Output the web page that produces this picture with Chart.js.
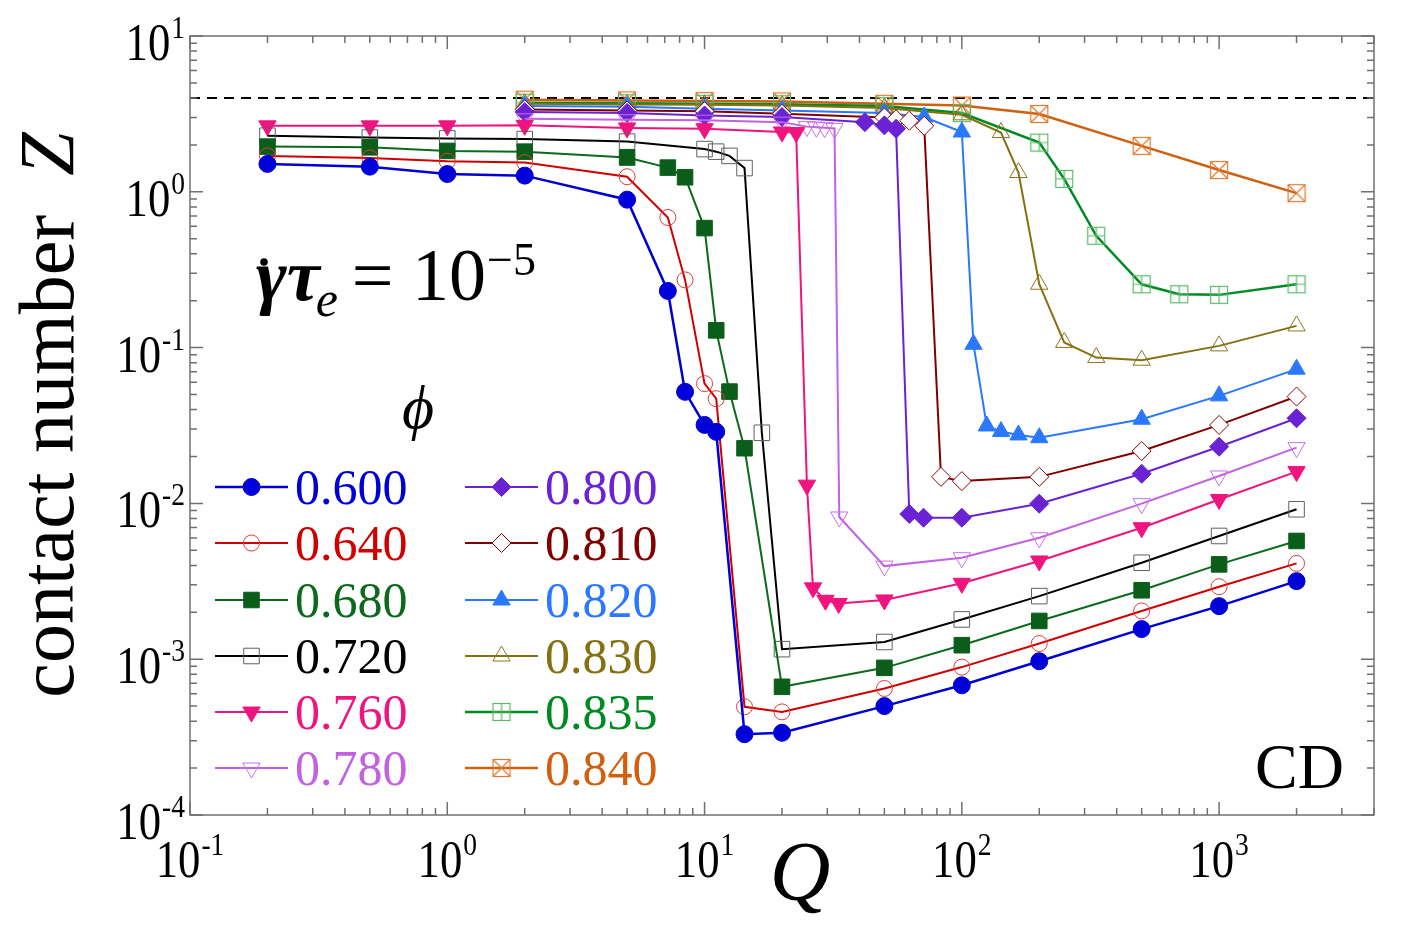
<!DOCTYPE html>
<html>
<head>
<meta charset="utf-8">
<script src="https://cdn.jsdelivr.net/npm/chart.js@4.4.1/dist/chart.umd.min.js"></script>
<style>
    html, body { margin: 0; padding: 0; background: #ffffff; }
    #wrap { width: 1403px; height: 933px; }
</style>
</head>
<body>
<div id="wrap"><canvas id="zChart" width="1403" height="933"></canvas></div>
<script>
// Contact number Z against Q, one curve per packing fraction phi
const phiLabels = ['0.600', '0.640', '0.680', '0.720', '0.760', '0.780',
                   '0.800', '0.810', '0.820', '0.830', '0.835', '0.840'];

const q600 = [0.2, 0.5, 1, 2, 5, 7.2, 8.4, 10, 11.1, 14.3, 20, 50, 100, 200, 500, 1000, 2000];
const z600 = [1.51, 1.45, 1.30, 1.27, 0.89, 0.231, 0.052, 0.0319, 0.0288, 3.30e-4, 3.37e-4, 5.0e-4, 6.8e-4, 9.7e-4, 1.56e-3, 2.19e-3, 3.17e-3];

const q640 = [0.2, 0.5, 1, 2, 5, 7.2, 8.4, 10, 11.1, 14.3, 20, 50, 100, 200, 500, 1000, 2000];
const z640 = [1.70, 1.65, 1.57, 1.54, 1.25, 0.684, 0.272, 0.0587, 0.047, 4.95e-4, 4.59e-4, 6.49e-4, 8.9e-4, 1.26e-3, 2.04e-3, 2.92e-3, 4.12e-3];

const q680 = [0.2, 0.5, 1, 2, 5, 7.2, 8.4, 10, 11.1, 12.5, 14.3, 20, 50, 100, 200, 500, 1000, 2000];
const z680 = [1.95, 1.93, 1.83, 1.81, 1.66, 1.43, 1.24, 0.585, 0.129, 0.0522, 0.0226, 6.65e-4, 8.8e-4, 1.23e-3, 1.76e-3, 2.77e-3, 4.06e-3, 5.74e-3];

const q720 = [0.2, 0.5, 1, 2, 5, 10, 11.1, 12.5, 14.3, 16.7, 20, 50, 100, 200, 500, 1000, 2000];
const z720 = [2.29, 2.23, 2.20, 2.18, 2.10, 1.88, 1.81, 1.70, 1.42, 0.0284, 1.16e-3, 1.29e-3, 1.80e-3, 2.54e-3, 4.16e-3, 6.18e-3, 9.17e-3];

const q760 = [0.2, 0.5, 1, 2, 5, 10, 20, 22.7, 25, 26.4, 29.5, 33.2, 50, 100, 200, 500, 1000, 2000];
const z760 = [2.65, 2.65, 2.65, 2.67, 2.57, 2.54, 2.42, 2.40, 0.0131, 2.87e-3, 2.39e-3, 2.28e-3, 2.40e-3, 3.07e-3, 4.27e-3, 6.98e-3, 0.0106, 0.0160];

const q780 = [2, 5, 10, 20, 25, 27.2, 29.3, 32, 33.4, 50, 100, 200, 500, 1000, 2000];
const z780 = [2.94, 2.90, 2.88, 2.80, 2.62, 2.60, 2.58, 2.55, 8.18e-3, 3.96e-3, 4.48e-3, 6.02e-3, 9.96e-3, 0.0150, 0.0228];

const q800 = [2, 5, 10, 20, 42, 50, 55.5, 62.5, 71, 100, 200, 500, 1000, 2000];
const z800 = [3.25, 3.21, 3.09, 3.02, 2.80, 2.67, 2.54, 8.55e-3, 8.09e-3, 8.09e-3, 9.96e-3, 0.0155, 0.0231, 0.0352];

const q810 = [2, 5, 10, 20, 50, 55.5, 62.5, 71.4, 83, 100, 200, 500, 1000, 2000];
const z810 = [3.38, 3.33, 3.29, 3.17, 3.00, 2.92, 2.86, 2.65, 0.0148, 0.0139, 0.0148, 0.0217, 0.0319, 0.0485];

const q820 = [2, 5, 10, 20, 50, 71.4, 100, 111, 125, 142, 166, 200, 500, 1000, 2000];
const z820 = [3.55, 3.52, 3.41, 3.33, 3.20, 3.02, 2.42, 0.105, 0.0314, 0.0289, 0.0275, 0.0264, 0.0347, 0.0490, 0.0727];

const q830 = [2, 5, 10, 20, 50, 100, 142, 166, 200, 250, 333, 500, 1000, 2000];
const z830 = [3.67, 3.63, 3.62, 3.58, 3.45, 3.12, 2.40, 1.33, 0.255, 0.108, 0.0863, 0.0830, 0.1026, 0.1378];

const q835 = [2, 5, 10, 20, 50, 100, 200, 250, 333, 500, 700, 1000, 2000];
const z835 = [3.73, 3.70, 3.67, 3.65, 3.55, 3.20, 2.07, 1.21, 0.522, 0.255, 0.220, 0.218, 0.255];

const q840 = [2, 5, 10, 20, 50, 100, 200, 500, 1000, 2000];
const z840 = [3.90, 3.86, 3.82, 3.80, 3.67, 3.58, 3.16, 1.97, 1.38, 0.98];

const zIso = 4;                 // dashed reference line
const xRange = [0.1, 4000];
const yRange = [1e-4, 10];
const xTickExp = ['-1', '0', '1', '2', '3'];
const yTickExp = ['-4', '-3', '-2', '-1', '0', '1'];

const qSets = [q600, q640, q680, q720, q760, q780, q800, q810, q820, q830, q835, q840];
const zSets = [z600, z640, z680, z720, z760, z780, z800, z810, z820, z830, z835, z840];

// little boxed markers (square with plus / square with X)
function boxMarker(color, kind) {
    const s = 20;
    const c = document.createElement('canvas');
    c.width = s; c.height = s;
    const g = c.getContext('2d');
    g.strokeStyle = color;
    g.lineWidth = 1.2;
    g.strokeRect(1.5, 1.5, s - 3, s - 3);
    g.beginPath();
    if (kind === 'plus') {
        g.moveTo(s / 2, 1.5); g.lineTo(s / 2, s - 1.5);
        g.moveTo(1.5, s / 2); g.lineTo(s - 1.5, s / 2);
    } else {
        g.moveTo(1.5, 1.5); g.lineTo(s - 1.5, s - 1.5);
        g.moveTo(s - 1.5, 1.5); g.lineTo(1.5, s - 1.5);
    }
    g.stroke();
    return c;
}

const NONE = 'rgba(0,0,0,0)';
const looks = [
    { line: '#0000d4', mark: '#0000d8', fill: '#0000d8', style: 'circle', r: 8.5, lw: 2.5 },
    { line: '#d00000', mark: '#e03a3a', fill: NONE, style: 'circle', r: 8, lw: 2 },
    { line: '#0b6a1c', mark: '#0b5e1a', fill: '#0b5e1a', style: 'rect', r: 11, lw: 2 },
    { line: '#000000', mark: '#606060', fill: NONE, style: 'rect', r: 11, lw: 2 },
    { line: '#f0147f', mark: '#f0147f', fill: '#f0147f', style: 'triangle', rot: 180, r: 10, lw: 2 },
    { line: '#c262e2', mark: '#c870ea', fill: NONE, style: 'triangle', rot: 180, r: 10, lw: 2 },
    { line: '#6a22d2', mark: '#6a22d2', fill: '#6a22d2', style: 'rectRot', r: 9.5, lw: 2 },
    { line: '#800000', mark: '#8a0000', fill: '#ffffff', style: 'rectRot', r: 9.5, lw: 2 },
    { line: '#2a78ff', mark: '#2a78ff', fill: '#2a78ff', style: 'triangle', r: 10, lw: 2 },
    { line: '#857012', mark: '#8a7522', fill: NONE, style: 'triangle', r: 10, lw: 2 },
    { line: '#008a22', mark: '#5cb86a', fill: NONE, style: boxMarker('#5cb86a', 'plus'), r: 9, lw: 2.5 },
    { line: '#d06010', mark: '#e07a30', fill: NONE, style: boxMarker('#e07a30', 'x'), r: 9, lw: 2.5 }
];

const datasets = phiLabels.map((lab, i) => ({
    label: lab,
    data: qSets[i].map((q, k) => ({ x: q, y: zSets[i][k] })),
    borderColor: looks[i].line,
    borderWidth: looks[i].lw,
    pointStyle: looks[i].style,
    pointRotation: looks[i].rot || 0,
    pointRadius: looks[i].r,
    pointBorderColor: looks[i].mark,
    pointBackgroundColor: looks[i].fill,
    pointBorderWidth: 1,
    tension: 0,
    fill: false
}));

datasets.push({
    label: 'iso',
    data: [{ x: xRange[0], y: zIso }, { x: xRange[1], y: zIso }],
    borderColor: '#000000',
    borderWidth: 2,
    borderDash: [10, 7],
    pointRadius: 0,
    fill: false
});

const SERIF = '"Liberation Serif", "Times New Roman", serif';

// frame with inward ticks on all four sides, plus tick labels
const framePlugin = {
    id: 'frame',
    afterDraw(chart) {
        const ctx = chart.ctx;
        const a = chart.chartArea;
        const xs = chart.scales.x, ys = chart.scales.y;
        ctx.save();
        ctx.strokeStyle = '#707070';
        ctx.lineWidth = 1.5;
        ctx.strokeRect(a.left, a.top, a.right - a.left, a.bottom - a.top);

        ctx.beginPath();
        for (let e = -1; e <= 3; e++) {
            for (let k = 1; k <= 9; k++) {
                const v = k * Math.pow(10, e);
                if (v > xRange[1]) break;
                const px = xs.getPixelForValue(v);
                const len = k === 1 ? 13 : 7;
                ctx.moveTo(px, a.bottom); ctx.lineTo(px, a.bottom - len);
                ctx.moveTo(px, a.top); ctx.lineTo(px, a.top + len);
            }
        }
        for (let e = -4; e <= 1; e++) {
            for (let k = 1; k <= 9; k++) {
                const v = k * Math.pow(10, e);
                if (v > yRange[1]) break;
                const py = ys.getPixelForValue(v);
                const len = k === 1 ? 13 : 7;
                ctx.moveTo(a.left, py); ctx.lineTo(a.left + len, py);
                ctx.moveTo(a.right, py); ctx.lineTo(a.right - len, py);
            }
        }
        ctx.stroke();

        // tick labels: condensed "10" with superscript exponent
        const sx = 0.86;
        ctx.fillStyle = '#000';
        ctx.textBaseline = 'alphabetic';
        const baseFont = '52px ' + SERIF;
        const supFont = '32px ' + SERIF;
        function label(exp, x, y, align) {
            ctx.font = baseFont;
            const wb = ctx.measureText('10').width * sx;
            ctx.font = supFont;
            const ws = ctx.measureText(exp).width * sx;
            const tot = wb + ws + 1;
            let x0 = align === 'center' ? x - tot / 2 : x - tot;
            ctx.save();
            ctx.translate(x0, y);
            ctx.scale(sx, 1);
            ctx.font = baseFont;
            ctx.textAlign = 'left';
            ctx.fillText('10', 0, 0);
            ctx.font = supFont;
            ctx.fillText(exp, (wb + 1) / sx, -22);
            ctx.restore();
        }
        xTickExp.forEach((ex, i) => {
            label(ex, xs.getPixelForValue(Math.pow(10, i - 1)), a.bottom + 62, 'center');
        });
        yTickExp.forEach((ex, i) => {
            label(ex, a.left - 5, ys.getPixelForValue(Math.pow(10, i - 4)) + 24, 'right');
        });
        ctx.restore();
    }
};

// axis titles, annotations and the two-column legend
const textPlugin = {
    id: 'texts',
    afterDraw(chart) {
        const ctx = chart.ctx;
        ctx.save();
        ctx.fillStyle = '#000';
        ctx.textBaseline = 'alphabetic';

        // y title
        ctx.save();
        ctx.translate(73, 415);
        ctx.rotate(-Math.PI / 2);
        ctx.font = '78px ' + SERIF;
        const t1 = 'contact number  ';
        const w1 = ctx.measureText(t1).width;
        ctx.font = 'italic 78px ' + SERIF;
        const w2 = ctx.measureText('Z').width;
        let x0 = -(w1 + w2) / 2;
        ctx.font = '78px ' + SERIF;
        ctx.fillText(t1, x0, 0);
        ctx.font = 'italic 78px ' + SERIF;
        ctx.fillText('Z', x0 + w1, 0);
        ctx.restore();

        // x title
        ctx.font = 'italic 84px ' + SERIF;
        ctx.textAlign = 'center';
        ctx.fillText('Q', 800, 900);

        // shear rate label
        ctx.textAlign = 'left';
        let x = 256;
        const yb = 300;
        ctx.font = 'italic bold 74px ' + SERIF;
        ctx.fillText('\u03b3', x, yb);
        ctx.beginPath();
        ctx.arc(x + 8, yb - 38, 3.8, 0, Math.PI * 2);
        ctx.fill();
        x += ctx.measureText('\u03b3').width;
        ctx.fillText('\u03c4', x, yb);
        x += ctx.measureText('\u03c4').width;
        ctx.font = 'italic 50px ' + SERIF;
        ctx.fillText('e', x - 4, yb + 16);
        x += ctx.measureText('e').width + 10;
        ctx.font = '74px ' + SERIF;
        ctx.fillText('= 10', x, yb);
        x += ctx.measureText('= 10').width;
        ctx.font = '46px ' + SERIF;
        ctx.fillText('\u22125', x + 1, yb - 25);

        // phi header
        ctx.font = 'italic 62px ' + SERIF;
        ctx.textAlign = 'center';
        ctx.fillText('\u03d5', 418, 428);

        // CD tag
        ctx.font = '64px ' + SERIF;
        ctx.textAlign = 'right';
        ctx.fillText('CD', 1344, 788);

        // legend
        const colLine = [[215, 288], [465, 538]];
        const colText = [295, 545];
        const rowY = [487, 543, 600, 656, 712, 768];
        chart.data.datasets.slice(0, phiLabels.length).forEach((ds, i) => {
            const col = Math.floor(i / 6), row = i % 6;
            const y = rowY[row];
            const [l, r] = colLine[col];
            ctx.strokeStyle = ds.borderColor;
            ctx.lineWidth = ds.borderWidth;
            ctx.beginPath();
            ctx.moveTo(l, y); ctx.lineTo(r, y);
            ctx.stroke();
            ctx.fillStyle = ds.pointBackgroundColor;
            ctx.strokeStyle = ds.pointBorderColor;
            ctx.lineWidth = ds.pointBorderWidth;
            Chart.helpers.drawPoint(ctx, {
                pointStyle: ds.pointStyle,
                rotation: ds.pointRotation,
                radius: ds.pointRadius,
                borderWidth: ds.pointBorderWidth
            }, (l + r) / 2, y);
            ctx.fillStyle = ds.borderColor;
            ctx.font = '50px ' + SERIF;
            ctx.textAlign = 'left';
            ctx.fillText(ds.label, colText[col], y + 17);
        });
        ctx.restore();
    }
};

new Chart(document.getElementById('zChart'), {
    type: 'line',
    data: { datasets: datasets },
    options: {
        responsive: false,
        animation: false,
        devicePixelRatio: 1,
        layout: { padding: { left: 190, right: 29, top: 36, bottom: 118 } },
        plugins: {
            legend: { display: false },
            tooltip: { enabled: false }
        },
        scales: {
            x: { type: 'logarithmic', min: xRange[0], max: xRange[1], display: false },
            y: { type: 'logarithmic', min: yRange[0], max: yRange[1], display: false }
        }
    },
    plugins: [framePlugin, textPlugin]
});
</script>
</body>
</html>
